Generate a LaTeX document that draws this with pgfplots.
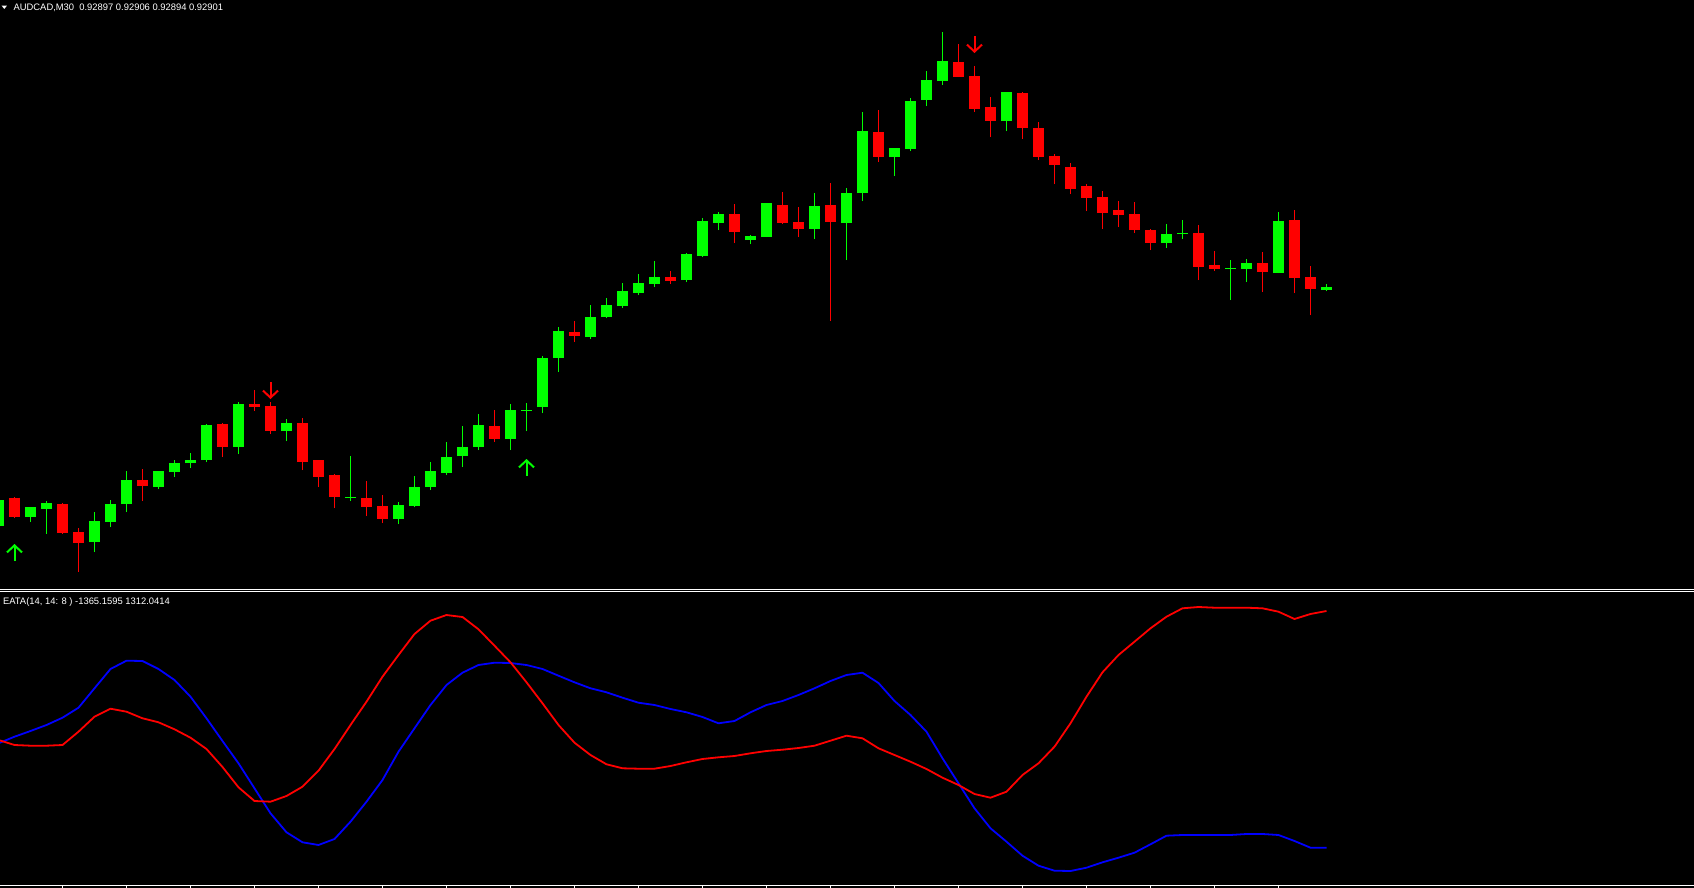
\documentclass[border=0pt]{standalone}
\usepackage{pgfplots}
\pgfplotsset{compat=1.18}
\usepackage{pgfplotstable}
\usepackage{fontspec}
\setmainfont{Liberation Sans}
\usetikzlibrary{arrows.meta}
\definecolor{cgreen}{RGB}{0,255,0}
\definecolor{cred}{RGB}{255,0,0}
\definecolor{cblue}{RGB}{0,0,255}

% candles: k open high low close (chart pixel rows, smaller = higher price)
\pgfplotstableread{
k o h l c
0 525.7 499 526 500
2 516.7 507 521.7 507
3 509 501 533.7 503
6 542 512 552 521
7 522 500 527 504
8 504 471 512 480
10 487 471 489 471
11 472 460 477 463
12 463 453 468 460
13 460 424 462 425
15 447 402 454 404
18 431 419 441 423
22 497.5 456 501 496.5
25 519 502 524 505
26 506 476 507 487
27 487 462 490 471
28 473 442 475 457
29 456 426 467 447
30 447 414 450 425
32 439 404 450 410
33 410.5 403 431 409.5
34 407 356 413 358
35 358 327 372 331
37 337 305 339 317
38 317 298 318 305
39 306 283 308 291
40 293 274 295 283
41 284 261 287 277
43 280 253 282 254
44 256 218 257 221
45 223 212 230 214
47 240 235 244 236
48 237 203 237 203
51 229 193 239 206
53 223 188 260 193
54 193 112 201 131
56 157 148 176 148
57 149 98 151 101
58 100 71 106 80
59 81 32 85 61
63 121 92 131 92
73 243 224 248 234
74 233.5 220 239 232.5
77 268.5 260 300 267.5
78 269 259 282 263
80 273 212 273 221
83 290 284 291 287
}\bull

\pgfplotstableread{
k o h l c
1 497.7 496.7 518 516.7
4 504 503 533.7 533
5 532 528 571.7 542.7
9 480 469 501 486
14 424 423 457 447
16 404 390 411 407
17 406 402 434 431
19 423 418 470 462
20 460 460 487 477
21 475 474 508 497
23 498 481 516 507
24 506 495 523 519
31 426 410 442 439
36 332 321 342 336
42 277 271 284 281
46 214 204 243 232
49 205 192 224 223
50 222 207 237 229
52 205 183 321 222
55 132 110 162 157
60 62 44 77 77
61 76 66 112 109
62 107 97 137 121
64 93 92 139 128
65 128 122 160 157
66 156 154 184 165
67 167 163 194 189
68 186 184 211 198
69 197 191 229 213
70 210 201 227 215
71 214 202 233 230
72 230 229 250 243
75 233 225 280 267
76 265 251 271 269
79 263 252 292 272
81 220 210 293 278
82 277 266 315 289
}\bear

% indicator: k red blue (pixel rows)
\pgfplotstableread{
k r b
0 740 743.3
1 745 736.7
2 745.7 731
3 745.7 725
4 745 717.7
5 731.7 707.7
6 716.7 688.3
7 708.7 669
8 711.7 660.7
9 718.3 661
10 722.3 669
11 729.3 680
12 737.7 696.7
13 749 718.3
14 767 741
15 787.3 763.3
16 801 788.3
17 801.7 813.3
18 796 832.3
19 786.7 842.3
20 770.7 845
21 749 839
22 725 821.7
23 701.7 801.7
24 676.7 780
25 655 751.7
26 634 728.3
27 620.7 705
28 615 685
29 617 672.7
30 629.3 665
31 645.7 662.7
32 662.3 663
33 682.3 665
34 703.3 669
35 725 675.7
36 742.7 682.3
37 755 688.3
38 764.3 692.3
39 768.3 697.7
40 768.7 702.7
41 768.7 705
42 766 709
43 762.3 712.3
44 759 717
45 757.3 723.3
46 756 721
47 753.3 712.3
48 751 705
49 749.7 701
50 748 695
51 745.7 688.3
52 740.7 681
53 735.7 675
54 738.3 672.7
55 748.3 683
56 755 701
57 761.7 715
58 769 731.7
59 777.7 758.3
60 785 783.3
61 794 808.3
62 797.7 828.3
63 791.7 841.7
64 775 855.7
65 763.3 865.7
66 746.7 870.7
67 723.3 871
68 696.7 867.7
69 672.3 862.3
70 655 857.7
71 641.7 852.7
72 628.3 844.3
73 616.7 835.7
74 608.3 835
75 607 835
76 607.7 835
77 607.7 835
78 607.7 834
79 608.3 834
80 611.7 835
81 619 841
82 614 847.7
83 611 847.7
}\eata

\begin{document}
\begin{tikzpicture}
\useasboundingbox (0,0) rectangle (847pt,-444pt);
\fill[black] (0,0) rectangle (847pt,-444pt);

% price pane
\begin{axis}[
  at={(0pt,0pt)}, anchor=north west,
  width=847pt, height=294.5pt, scale only axis,
  xmin=0.09375, xmax=105.96875,
  ymin=0, ymax=589, y dir=reverse,
  hide axis, clip=true,
]
% wicks (low -> high) and bodies (open -> close)
\addplot[draw=cgreen, line width=0.5pt, line cap=butt,
  quiver={u=0, v=\thisrow{h}-\thisrow{l}}] table[x=k, y=l] {\bull};
\addplot[draw=cgreen, line width=5.5pt, line cap=butt,
  quiver={u=0, v=\thisrow{c}-\thisrow{o}}] table[x=k, y=o] {\bull};
\addplot[draw=cred, line width=0.5pt, line cap=butt,
  quiver={u=0, v=\thisrow{h}-\thisrow{l}}] table[x=k, y=l] {\bear};
\addplot[draw=cred, line width=5.5pt, line cap=butt,
  quiver={u=0, v=\thisrow{c}-\thisrow{o}}] table[x=k, y=o] {\bear};
% signal arrows
\addplot[cgreen, line width=1pt, quiver={u=0, v=-17},
  -{Straight Barb[length=3.5pt, width=7.5pt, line width=1pt]}]
  coordinates {(1,561) (33,476)};
\addplot[cred, line width=1pt, quiver={u=0, v=17},
  -{Straight Barb[length=3.5pt, width=7.5pt, line width=1pt]}]
  coordinates {(17,382) (61,36)};
\end{axis}

% indicator pane
\begin{axis}[
  at={(0pt,-296pt)}, anchor=north west,
  width=847pt, height=146.5pt, scale only axis,
  xmin=0.09375, xmax=105.96875,
  ymin=-885, ymax=-592,
  y filter/.expression={-y},
  axis x line*=bottom, axis y line=none,
  x axis line style={white, line width=0.5pt},
  xtick={4,8,...,80}, xticklabels={}, ytick=\empty,
  tick align=outside, major tick length=1.5pt,
  tick style={white, line width=0.5pt},
  clip=true,
]
\addplot[cblue, line width=0.9pt, mark=none] table[x=k, y=b] {\eata};
\addplot[cred, line width=0.9pt, mark=none] table[x=k, y=r] {\eata};
\end{axis}

% pane separators
\draw[white, line width=0.5pt] (0,-294.75pt) -- (847pt,-294.75pt);
\draw[white, line width=0.5pt] (0,-295.75pt) -- (847pt,-295.75pt);

% labels
\fill[white] (0.85pt,-2.85pt) -- (3.45pt,-2.85pt) -- (2.15pt,-4.5pt) -- cycle;
\node[anchor=base west, inner sep=0pt, text=white, font=\fontsize{4.7pt}{5pt}\selectfont]
  at (6.6pt,-5.5pt) {AUDCAD,M30\ \ 0.92897 0.92906 0.92894 0.92901};
\node[anchor=base west, inner sep=0pt, text=white, font=\fontsize{4.7pt}{5pt}\selectfont]
  at (1.35pt,-302pt) {EATA(14, 14: 8 ) -1365.1595 1312.0414};
\end{tikzpicture}
\end{document}
